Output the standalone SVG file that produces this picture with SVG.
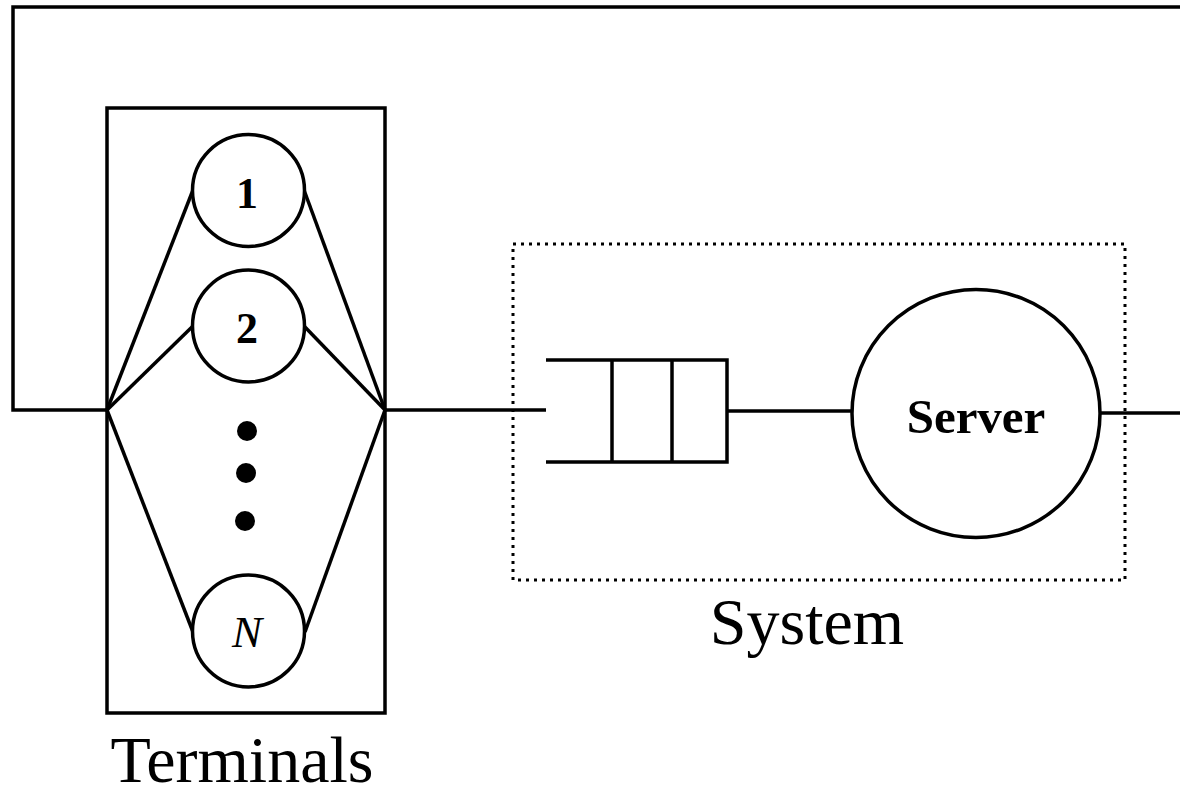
<svg xmlns="http://www.w3.org/2000/svg" width="1180" height="792" viewBox="0 0 1180 792">
<style>
.s{fill:none;stroke:#000;stroke-width:3.5}
.c{fill:#fff;stroke:#000;stroke-width:3.5}
.d{fill:none;stroke:#000;stroke-width:3;stroke-dasharray:3 5}
.t{font-family:"Liberation Serif",serif;fill:#000}
</style>
<rect width="1180" height="792" fill="#fff"/>
<g id="connectors">
<polyline class="s" points="1180,7 13,7 13,410 107,410"/>
<line class="s" x1="107" y1="410" x2="193" y2="190"/>
<line class="s" x1="107" y1="410" x2="193" y2="326"/>
<line class="s" x1="107" y1="410" x2="193" y2="632"/>
<line class="s" x1="304" y1="190" x2="385" y2="410"/>
<line class="s" x1="304" y1="326" x2="385" y2="410"/>
<line class="s" x1="305" y1="632" x2="385" y2="410"/>
<line class="s" x1="385" y1="410" x2="546" y2="410"/>
<line class="s" x1="727" y1="411" x2="852" y2="411"/>
<line class="s" x1="1100" y1="413" x2="1180" y2="413"/>
</g>
<g id="terminals">
<rect class="s" x="107" y="108" width="278" height="605"/>
<text class="t" x="242" y="782" font-size="66" text-anchor="middle">Terminals</text>
</g>
<g id="t1">
<circle class="c" cx="248.5" cy="190.5" r="56"/>
<text class="t" x="247" y="208" font-size="44" font-weight="bold" text-anchor="middle">1</text>
</g>
<g id="t2">
<circle class="c" cx="248.5" cy="326" r="56"/>
<text class="t" x="247" y="343" font-size="44" font-weight="bold" text-anchor="middle">2</text>
</g>
<g id="dots">
<circle cx="247" cy="431" r="10"/>
<circle cx="246" cy="473" r="10"/>
<circle cx="245" cy="521" r="10"/>
</g>
<g id="tN">
<circle class="c" cx="248.5" cy="631" r="56"/>
<text class="t" x="247" y="647" font-size="45" font-style="italic" text-anchor="middle">N</text>
</g>
<g id="system">
<rect class="d" x="513" y="244" width="612" height="336"/>
<text class="t" x="807" y="644" font-size="66" text-anchor="middle">System</text>
</g>
<g id="queue">
<polyline class="s" points="546,360 727,360 727,462 546,462"/>
<line class="s" x1="612" y1="360" x2="612" y2="462"/>
<line class="s" x1="672" y1="360" x2="672" y2="462"/>
</g>
<g id="server">
<circle class="c" cx="976" cy="413.5" r="124"/>
<text class="t" x="976" y="433" font-size="49" font-weight="bold" text-anchor="middle">Server</text>
</g>
</svg>
